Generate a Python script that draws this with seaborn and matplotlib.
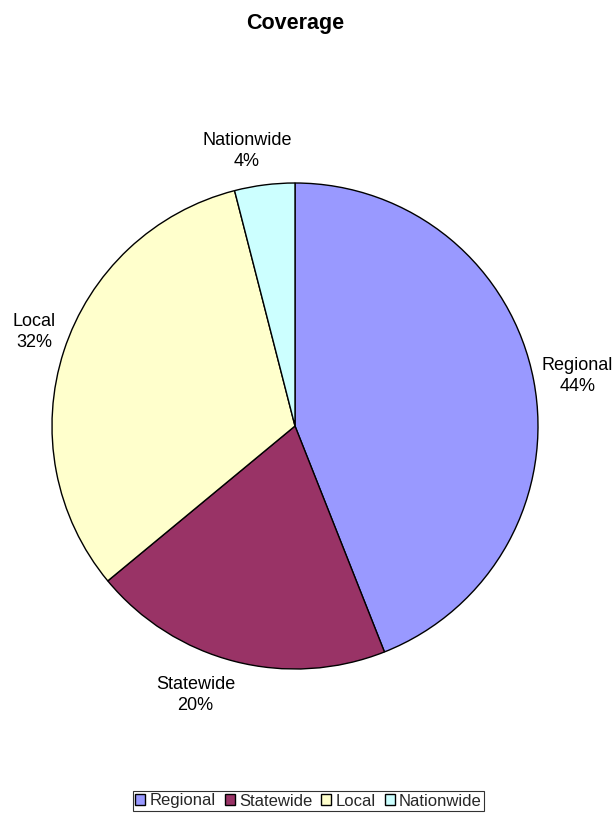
import numpy as np
import matplotlib
matplotlib.use("Agg")
import matplotlib.pyplot as plt
import seaborn as sns
from matplotlib.patches import Patch

sns.set_theme(style="white")
plt.rcParams["font.family"] = ["Liberation Sans", "DejaVu Sans"]

# Share of coverage by reach
categories = ["Regional", "Statewide", "Local", "Nationwide"]
shares = [44, 20, 32, 4]
colors = ["#9999FF", "#993366", "#FFFFCC", "#CCFFFF"]

# Label placement: distance from the centre (in radii) and a small angular nudge
label_dist = [1.18, 1.18, 1.14, 1.15]
label_nudge = [-0.75, -5.9, -1.8, 2.7]

fig = plt.figure(figsize=(6.16, 8.16), dpi=100)
W, H = 616, 816
cx, cy, r = 295, 426, 243
ax = fig.add_axes([(cx - r) / W, (H - cy - r) / H, 2 * r / W, 2 * r / H])

wedges, _ = ax.pie(
    shares,
    colors=colors,
    startangle=90,
    counterclock=False,
    wedgeprops=dict(edgecolor="black", linewidth=1.0),
)
ax.set_xlim(-1, 1)
ax.set_ylim(-1, 1)
ax.set_aspect("equal")
ax.axis("off")

total = sum(shares)
for w, name, v, d, nudge in zip(wedges, categories, shares, label_dist, label_nudge):
    mid = np.deg2rad((w.theta1 + w.theta2) / 2 + nudge)
    ax.text(d * np.cos(mid), d * np.sin(mid), f"{name}\n{round(100 * v / total)}%",
            ha="center", va="center", fontsize=13, color="black",
            linespacing=1.3, clip_on=False)

fig.text(295 / W, 1 - 24 / H, "Coverage", ha="center", va="center",
         fontsize=15.5, fontweight="bold", color="black")

handles = [Patch(facecolor=c, edgecolor="black", linewidth=1.0, label=n)
           for c, n in zip(colors, categories)]
leg = fig.legend(handles=handles, loc="center", bbox_to_anchor=(308.5 / W, 1 - 801 / H),
                 ncol=4, frameon=True, fontsize=12, handlelength=0.6, handleheight=0.6,
                 handletextpad=0.25, columnspacing=0.55, borderpad=0.15,
                 fancybox=False, borderaxespad=0)
leg.get_frame().set_edgecolor("black")
leg.get_frame().set_linewidth(0.8)

fig.savefig("out.png", dpi=100, facecolor="white")
